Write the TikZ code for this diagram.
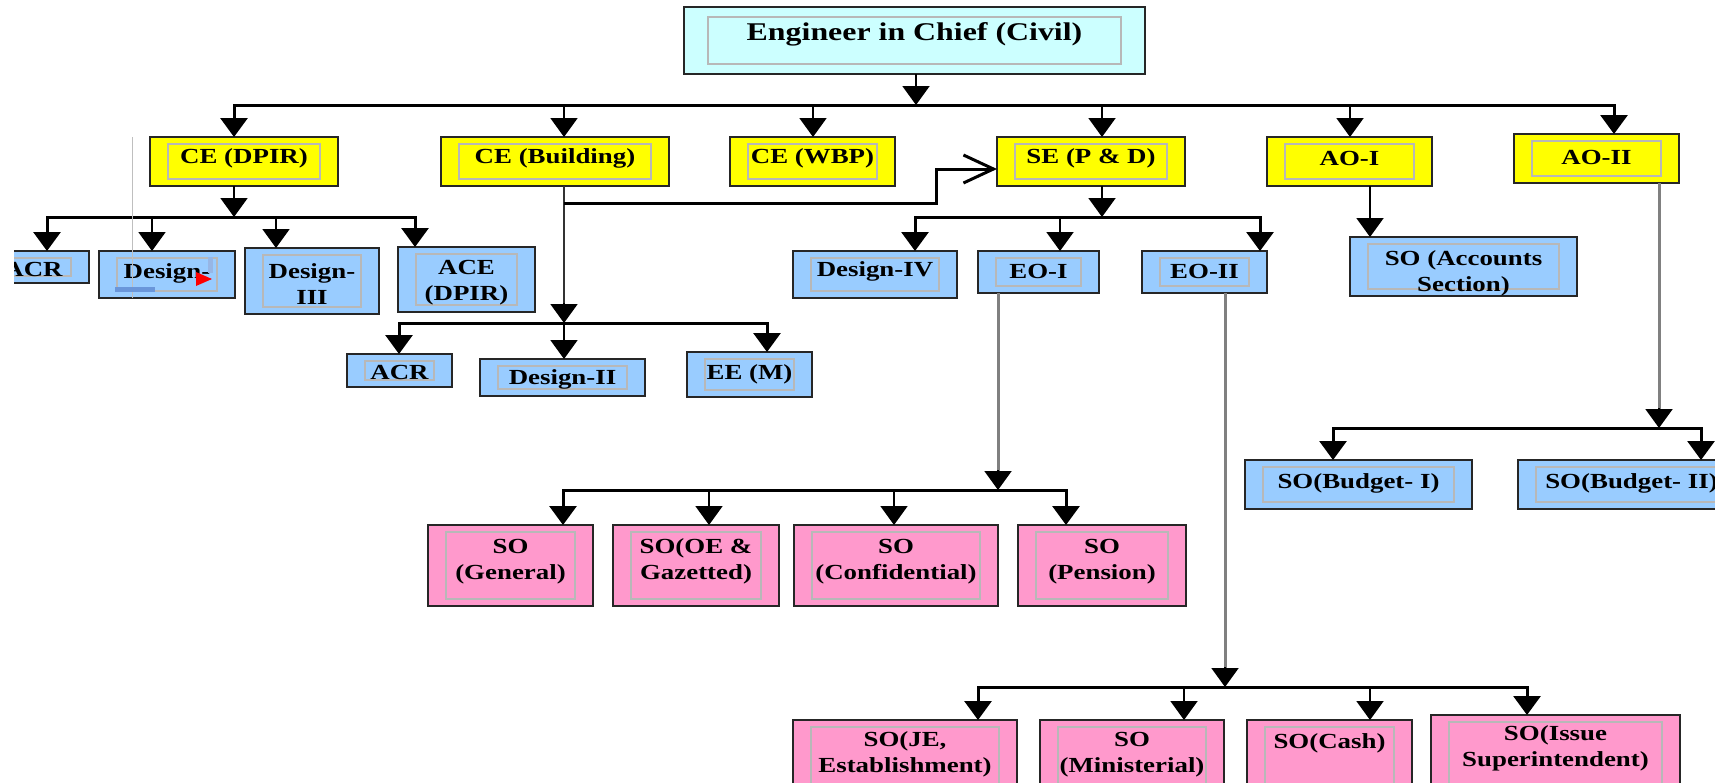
\documentclass[tikz,border=0pt]{standalone}
\usepackage{fontspec}
\newfontfamily\orgfont[FakeStretch=1.25]{Liberation Serif}
\usetikzlibrary{arrows.meta}
\definecolor{eicfill}{HTML}{CCFFFF}
\definecolor{yel}{HTML}{FFFF00}
\definecolor{blu}{HTML}{99CCFF}
\definecolor{pnk}{HTML}{FF99CC}
\definecolor{innerc}{HTML}{B8B8B8}
\definecolor{selbar}{HTML}{6A96DA}
\tikzset{
  ix/.initial=18pt, iy/.initial=7pt,
  tri/.tip={Triangle[width=27pt,length=19pt]},
  box/.style={draw=black!85, line width=2pt, inner sep=0pt, outer sep=0pt,
    path picture={\draw[innerc, line width=1.2pt]
      ([xshift=\pgfkeysvalueof{/tikz/ix},yshift=-\pgfkeysvalueof{/tikz/iy}]path picture bounding box.north west)
      rectangle
      ([xshift=-\pgfkeysvalueof{/tikz/ix},yshift=\pgfkeysvalueof{/tikz/iy}]path picture bounding box.south east);}},
  lbl/.style={font=\orgfont\bfseries\fontsize{21.5}{26}\selectfont, align=center, inner sep=0pt, text=black},
  conn/.style={line width=2pt, draw=black},
  bus/.style={line width=3pt, draw=black},
  gline/.style={line width=3pt, draw=black!50},
  eicbox/.style={box, fill=eicfill, ix=24pt, iy=10pt},
  ybox/.style={box, fill=yel},
  bbox/.style={box, fill=blu},
  pbox/.style={box, fill=pnk}
}
% name, x1, y1, x2, y2, style, text lift, text
\newcommand\orgbox[8]{%
  \node[#6, minimum width={((#4)-(#2))*1pt}, minimum height={((#5)-(#3))*1pt}] (#1) at ({((#2)+(#4))/2},{((#3)+(#5))/2}) {};
  \node[lbl] (#1t) at ([yshift=#7pt]#1.center) {#8};
}
\begin{document}
\begin{tikzpicture}[x=1pt,y=-1pt]
\useasboundingbox (0,0) rectangle (1715,782);
\clip (0,0) rectangle (1715,782);
\fill[white] (0,0) rectangle (1715,782);

% ---- boxes ----
\orgbox{eic}{684}{7}{1145}{74}{eicbox}{6}{\fontsize{25.5}{30}\selectfont Engineer in Chief (Civil)}
\orgbox{cedpir}{150}{137}{338}{186}{ybox}{3}{CE (DPIR)}
\orgbox{cebld}{441}{137}{669}{186}{ybox}{3}{CE (Building)}
\orgbox{cewbp}{730}{137}{895}{186}{ybox}{3}{CE (WBP)}
\orgbox{sepd}{997}{137}{1185}{186}{ybox}{3}{SE (P \& D)}
\orgbox{aoi}{1267}{137}{1432}{186}{ybox}{3}{AO-I}
\orgbox{aoii}{1514}{134}{1679}{183}{ybox}{1}{AO-II}

\orgbox{acra}{-22}{251}{89}{283}{bbox}{-2}{ACR}
\orgbox{desa}{99}{251}{235}{298}{bbox}{1}{Design-}
\orgbox{desc}{245}{248}{379}{314}{bbox}{-3}{Design-\\III}
\orgbox{ace}{398}{247}{535}{312}{bbox}{-3}{ACE\\(DPIR)}
\orgbox{acrb}{347}{354}{452}{387}{bbox}{-2}{ACR}
\orgbox{desb}{480}{359}{645}{396}{bbox}{-2}{Design-II}
\orgbox{eem}{687}{352}{812}{397}{bbox}{0}{EE (M)}
\orgbox{desd}{793}{251}{957}{298}{bbox}{3}{Design-IV}
\orgbox{eoi}{978}{251}{1099}{293}{bbox}{1}{EO-I}
\orgbox{eoii}{1142}{251}{1267}{293}{bbox}{1}{EO-II}
\orgbox{soacc}{1350}{237}{1577}{296}{bbox}{-7}{SO (Accounts\\Section)}
\orgbox{sobuda}{1245}{460}{1472}{509}{bbox}{1}{SO(Budget- I)}
\orgbox{sobudb}{1518}{460}{1745}{509}{bbox}{1}{SO(Budget- II)}

\orgbox{sogen}{428}{525}{593}{606}{pbox}{4}{SO\\(General)}
\orgbox{sooe}{613}{525}{779}{606}{pbox}{4}{SO(OE \&\\Gazetted)}
\orgbox{soconf}{794}{525}{998}{606}{pbox}{4}{SO\\(Confidential)}
\orgbox{sopen}{1018}{525}{1186}{606}{pbox}{4}{SO\\(Pension)}
\orgbox{soje}{793}{720}{1017}{795}{pbox}{3}{SO(JE,\\Establishment)}
\orgbox{somin}{1040}{720}{1224}{795}{pbox}{3}{SO\\(Ministerial)}
\orgbox{socash}{1247}{720}{1412}{795}{pbox}{14}{SO(Cash)}
\orgbox{soiss}{1431}{715}{1680}{795}{pbox}{6.5}{SO(Issue\\Superintendent)}

% ---- bus coordinates ----
\coordinate (b0) at (916,105);
\coordinate (b0a) at (234,105);
\coordinate (b0b) at (564,105);
\coordinate (b0c) at (813,105);
\coordinate (b0d) at (1102,105);
\coordinate (b0e) at (1350,105);
\coordinate (b0f) at (1614,105);

\coordinate (b1) at (234,217);
\coordinate (b1a) at (47,217);
\coordinate (b1b) at (152,217);
\coordinate (b1c) at (276,217);
\coordinate (b1d) at (415,217);

\coordinate (b2) at (564,323);
\coordinate (b2a) at (399,323);
\coordinate (b2c) at (767,323);

\coordinate (br0) at (564,203);
\coordinate (br1) at (936,203);
\coordinate (br2) at (936,169);

\coordinate (b3) at (1102,217);
\coordinate (b3a) at (915,217);
\coordinate (b3b) at (1060,217);
\coordinate (b3c) at (1260,217);

\coordinate (ac) at (1370,200);

\coordinate (b4) at (998,490);
\coordinate (b4a) at (563,490);
\coordinate (b4b) at (709,490);
\coordinate (b4c) at (894,490);
\coordinate (b4d) at (1066,490);

\coordinate (b5) at (1659,428);
\coordinate (b5a) at (1333,428);
\coordinate (b5b) at (1701,428);

\coordinate (b6) at (1225,687);
\coordinate (b6a) at (978,687);
\coordinate (b6b) at (1184,687);
\coordinate (b6c) at (1370,687);
\coordinate (b6d) at (1527,687);

% ---- connectors ----
% level 0
\draw[conn,-tri] (eic.south -| b0) -- (b0);
\draw[bus,tri-tri] (cedpir.north -| b0a) -- (b0a) -- (b0f) -- (aoii.north -| b0f);
\draw[conn,-tri] (b0b) -- (cebld.north -| b0b);
\draw[conn,-tri] (b0c) -- (cewbp.north -| b0c);
\draw[conn,-tri] (b0d) -- (sepd.north -| b0d);
\draw[conn,-tri] (b0e) -- (aoi.north -| b0e);

% CE (DPIR)
\draw[conn,-tri] (cedpir.south -| b1) -- (b1);
\draw[bus,tri-tri] (acra.north -| b1a) -- (b1a) -- (b1d) -- (ace.north -| b1d);
\draw[conn,-tri] (b1b) -- (desa.north -| b1b);
\draw[conn,-tri] (b1c) -- (desc.north -| b1c);

% CE (Building)
\draw[line width=2pt, draw=black!80] (cebld.south -| b2) -- ([yshift=16pt]b2);
\draw[conn,-tri] ([yshift=20pt]b2) -- (b2);
\draw[bus,tri-tri] (acrb.north -| b2a) -- (b2a) -- (b2c) -- (eem.north -| b2c);
\draw[conn,-tri] (b2) -- (desb.north -| b2);
\draw[line width=3pt, -{Straight Barb[length=30pt,width=28pt]}] (br0) -- (br1) -- (br2) -- (sepd.west |- br2);

% SE (P & D)
\draw[conn,-tri] (sepd.south -| b3) -- (b3);
\draw[bus,tri-tri] (desd.north -| b3a) -- (b3a) -- (b3c) -- (eoii.north -| b3c);
\draw[conn,-tri] (b3b) -- (eoi.north -| b3b);

% AO-I
\draw[conn,-tri] (aoi.south -| ac) -- (soacc.north -| ac);

% EO-I
\draw[gline] (eoi.south -| b4) -- ([yshift=16pt]b4);
\draw[conn,-tri] ([yshift=20pt]b4) -- (b4);
\draw[bus,tri-tri] (sogen.north -| b4a) -- (b4a) -- (b4d) -- (sopen.north -| b4d);
\draw[conn,-tri] (b4b) -- (sooe.north -| b4b);
\draw[conn,-tri] (b4c) -- (soconf.north -| b4c);

% AO-II
\draw[gline] (aoii.south -| b5) -- ([yshift=16pt]b5);
\draw[conn,-tri] ([yshift=20pt]b5) -- (b5);
\draw[bus,tri-tri] (sobuda.north -| b5a) -- (b5a) -- (b5b) -- (sobudb.north -| b5b);

% EO-II
\draw[gline] (eoii.south -| b6) -- ([yshift=16pt]b6);
\draw[conn,-tri] ([yshift=20pt]b6) -- (b6);
\draw[bus,tri-tri] (soje.north -| b6a) -- (b6a) -- (b6d) -- (soiss.north -| b6d);
\draw[conn,-tri] (b6b) -- (somin.north -| b6b);
\draw[conn,-tri] (b6c) -- (socash.north -| b6c);

% ---- screenshot artefacts ----
\fill[white] (0,240) rectangle (14,292);
\draw[black!25, line width=0.8pt] (132,137) -- (132,298);
\fill[selbar] (115,287) rectangle (155,292);
\fill[selbar!70] (208,257) rectangle (213,273);
\fill[red] (196,272) -- (212,279) -- (196,286) -- cycle;
\end{tikzpicture}
\end{document}
